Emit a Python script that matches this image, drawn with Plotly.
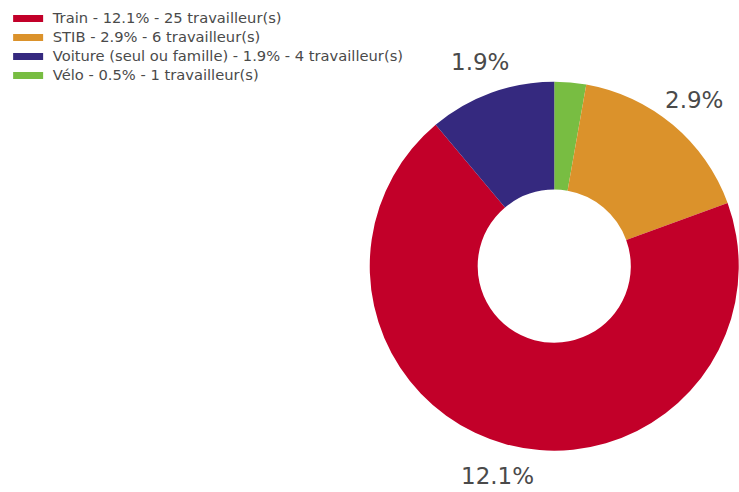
import math
import plotly.graph_objects as go

# Data (legend order)
modes = ["Train", "STIB", "Voiture (seul ou famille)", "Vélo"]
shares = ["12.1%", "2.9%", "1.9%", "0.5%"]
workers = [25, 6, 4, 1]
colors = ["#c20029", "#db922b", "#35297f", "#78bd42"]
slice_text = ["12.1%", "2.9%", "1.9%", ""]

# slices go clockwise from 12 o'clock: Vélo, STIB, Train, Voiture
pie_order = [3, 1, 0, 2]

W, H = 739, 492
dom_x = [0.5, 1.0]
dom_y = [0.084, 0.834]
label_gap = 33  # px beyond the outer edge for the percentage labels

legend_names = [
    f'<span style="font-size:14.7px">\u00a0{m} - {s} - {w} travailleur(s)</span>'
    for m, s, w in zip(modes, shares, workers)
]

fig = go.Figure()

fig.add_trace(
    go.Pie(
        labels=[modes[i] for i in pie_order],
        values=[workers[i] for i in pie_order],
        marker=dict(colors=[colors[i] for i in pie_order], line=dict(width=0)),
        hole=0.415,
        sort=False,
        direction="clockwise",
        rotation=0,
        textinfo="none",
        showlegend=False,
        hoverinfo="label+value",
        domain=dict(x=dom_x, y=dom_y),
    )
)

# percentage labels placed outside the ring, at each slice's mid angle
cx = (dom_x[0] + dom_x[1]) / 2
cy = (dom_y[0] + dom_y[1]) / 2
radius = min((dom_x[1] - dom_x[0]) * W, (dom_y[1] - dom_y[0]) * H) / 2
total = sum(workers)
start = 0
for i in pie_order:
    mid = (start + workers[i] / 2) / total * 2 * math.pi
    start += workers[i]
    if not slice_text[i]:
        continue
    r = radius + label_gap
    fig.add_annotation(
        x=cx + r * math.sin(mid) / W,
        y=cy + r * math.cos(mid) / H,
        xref="paper", yref="paper",
        text=slice_text[i],
        showarrow=False,
        borderpad=0,
        xanchor="center", yanchor="middle",
        font=dict(size=23, color="#4a4a4a", family="DejaVu Sans"),
    )

# legend entries as wide colour bars
for name, col in zip(legend_names, colors):
    fig.add_trace(
        go.Scatter(x=[None], y=[None], mode="lines", name=name,
                   line=dict(color=col, width=7))
    )

fig.update_layout(
    width=W,
    height=H,
    margin=dict(l=0, r=0, t=0, b=0),
    paper_bgcolor="white",
    plot_bgcolor="white",
    font=dict(family="DejaVu Sans", color="#4a4a4a"),
    xaxis=dict(visible=False),
    yaxis=dict(visible=False),
    legend=dict(
        x=0.011, y=0.992, xanchor="left", yanchor="top",
        font=dict(size=11, color="#4a4a4a"),
        tracegroupgap=0,
        itemwidth=30,
    ),
)

# drop the default page margin so the figure fills the window exactly
fig.write_html(
    "out.html",
    config={"displayModeBar": False},
    post_script="document.body.style.margin = '0';",
)
